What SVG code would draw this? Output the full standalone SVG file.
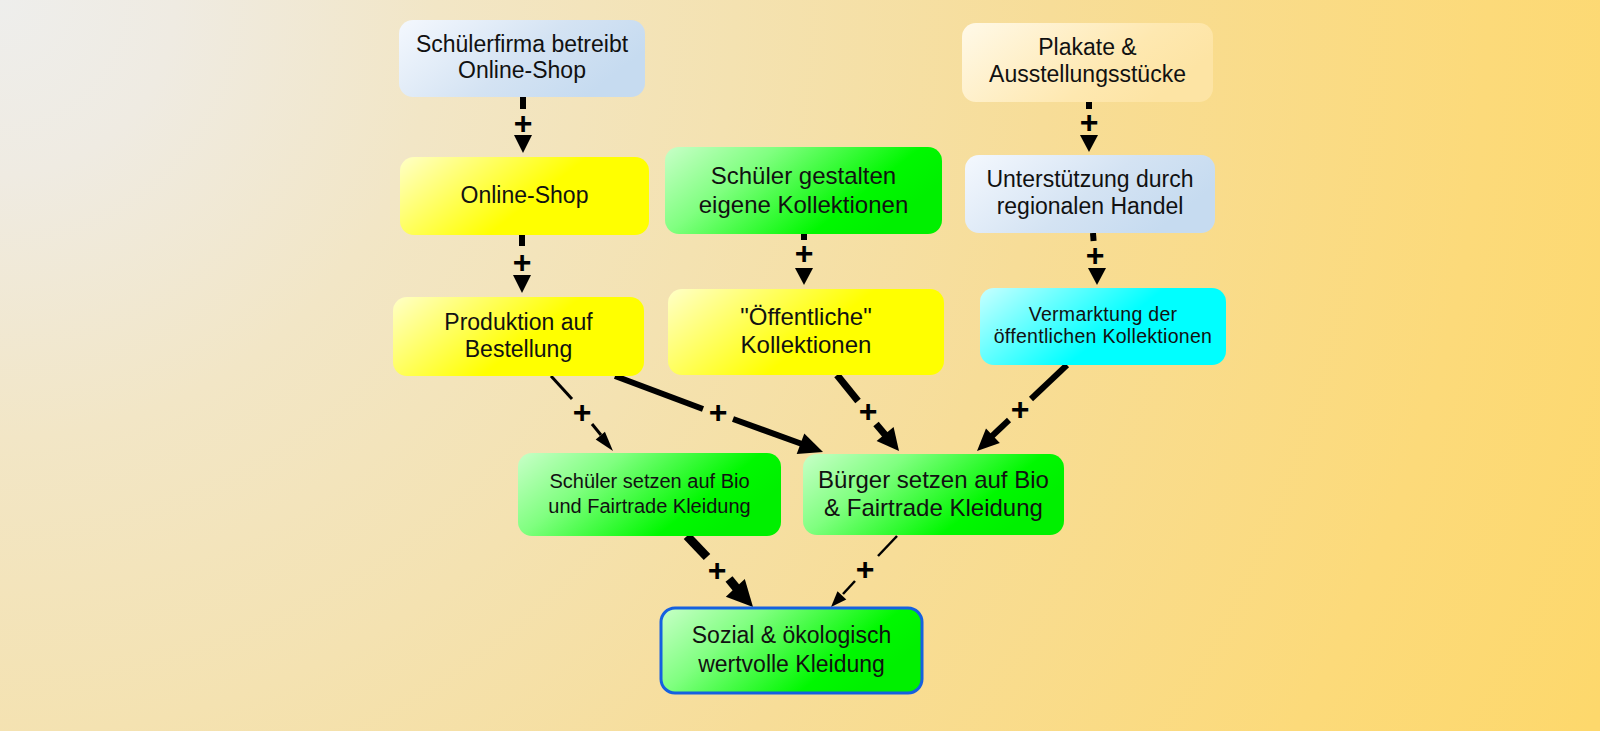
<svg xmlns="http://www.w3.org/2000/svg" width="1600" height="731" viewBox="0 0 1600 731">
<defs>
<radialGradient id="bg" gradientUnits="userSpaceOnUse" cx="0" cy="0" r="1750">
<stop offset="0" stop-color="#eeeeec"/>
<stop offset="0.1" stop-color="#efebe2"/>
<stop offset="0.25" stop-color="#f2e6c6"/>
<stop offset="0.42" stop-color="#f4e2b1"/>
<stop offset="0.6" stop-color="#f7dd98"/>
<stop offset="0.85" stop-color="#fcda7a"/>
<stop offset="1" stop-color="#fdd86c"/>
</radialGradient>
<linearGradient id="gBlue" x1="0" y1="0" x2="1" y2="0.4">
<stop offset="0" stop-color="#f4f8fe"/>
<stop offset="0.6" stop-color="#d4e3f3"/>
<stop offset="1" stop-color="#c6dbf0"/>
</linearGradient>
<linearGradient id="gYellow" x1="0" y1="0" x2="1" y2="0.4">
<stop offset="0" stop-color="#ffffc8"/>
<stop offset="0.65" stop-color="#ffff00"/>
<stop offset="1" stop-color="#ffff00"/>
</linearGradient>
<linearGradient id="gGreen" x1="0" y1="0" x2="1" y2="0.4">
<stop offset="0" stop-color="#c8ffc8"/>
<stop offset="0.35" stop-color="#80ff80"/>
<stop offset="0.8" stop-color="#00f800"/>
<stop offset="1" stop-color="#00f000"/>
</linearGradient>
<linearGradient id="gCyan" x1="0" y1="0" x2="1" y2="0.4">
<stop offset="0" stop-color="#c8ffff"/>
<stop offset="0.65" stop-color="#00ffff"/>
<stop offset="1" stop-color="#00ffff"/>
</linearGradient>
<linearGradient id="gCream" x1="0" y1="0" x2="1" y2="0.4">
<stop offset="0" stop-color="#fff9e8"/>
<stop offset="0.7" stop-color="#fee8b0"/>
<stop offset="1" stop-color="#fde4a4"/>
</linearGradient>
</defs>
<style>
.t{font-family:"Liberation Sans",Arial,sans-serif;fill:#111;text-anchor:middle}
.f23{font-size:23px}
.f24{font-size:24px}
.f20{font-size:20px}
.f19{font-size:19.5px;letter-spacing:0.3px}
.pl{font-family:"Liberation Sans",Arial,sans-serif;font-weight:bold;font-size:32px;fill:#000;text-anchor:middle}
.ln{stroke:#000;fill:none;stroke-linecap:butt}
.ah{fill:#000}
</style>
<rect x="0" y="0" width="1600" height="731" fill="url(#bg)"/>

<g id="connectors">
<g id="c1"><line class="ln" x1="523" y1="97" x2="523" y2="109" stroke-width="6"/><polygon class="ah" points="523,153 514,135 532,135"/><text class="pl" x="523" y="134">+</text></g>
<g id="c2"><line class="ln" x1="522" y1="235" x2="522" y2="246" stroke-width="6"/><polygon class="ah" points="522,293 513,275 531,275"/><text class="pl" x="522" y="273">+</text></g>
<g id="c3"><line class="ln" x1="804" y1="234" x2="804" y2="240" stroke-width="6"/><polygon class="ah" points="804,285 795,268 813,268"/><text class="pl" x="804" y="264">+</text></g>
<g id="c4"><line class="ln" x1="1089" y1="102" x2="1089" y2="109" stroke-width="6"/><polygon class="ah" points="1089,152 1080,135 1098,135"/><text class="pl" x="1089" y="133">+</text></g>
<g id="c5"><line class="ln" x1="1093" y1="233" x2="1093.6" y2="241" stroke-width="6"/><polygon class="ah" points="1097,285 1088,268 1106,268"/><text class="pl" x="1095" y="266">+</text></g>
<g id="c6"><line class="ln" x1="551" y1="376" x2="572" y2="399" stroke-width="3"/><line class="ln" x1="592" y1="424" x2="601" y2="435" stroke-width="3"/><polygon class="ah" points="613,451 595.7,439.4 604.9,431.8"/><text class="pl" x="582" y="423">+</text></g>
<g id="c7"><line class="ln" x1="615" y1="376" x2="703" y2="409" stroke-width="6"/><line class="ln" x1="733" y1="419" x2="802" y2="444" stroke-width="6"/><polygon class="ah" points="823,452 796.7,454.1 804.3,433.5"/><text class="pl" x="718" y="423">+</text></g>
<g id="c8"><line class="ln" x1="837" y1="375" x2="858" y2="401" stroke-width="7"/><line class="ln" x1="876" y1="424" x2="887" y2="437" stroke-width="7"/><polygon class="ah" points="899,451 876.6,441 893.6,427"/><text class="pl" x="868" y="422">+</text></g>
<g id="c9"><line class="ln" x1="1067" y1="365" x2="1031" y2="399" stroke-width="6"/><line class="ln" x1="1009" y1="420" x2="991" y2="437" stroke-width="6"/><polygon class="ah" points="977,451 986,428.6 999.8,443"/><text class="pl" x="1020" y="420">+</text></g>
<g id="c10"><line class="ln" x1="687" y1="536" x2="707" y2="557" stroke-width="9"/><line class="ln" x1="729" y1="579" x2="738" y2="590" stroke-width="9"/><polygon class="ah" points="753,607 725.8,596.8 744.8,579"/><text class="pl" x="717" y="581">+</text></g>
<g id="c11"><line class="ln" x1="897" y1="536" x2="878" y2="556" stroke-width="2.5"/><line class="ln" x1="855" y1="581" x2="843" y2="594" stroke-width="2.5"/><polygon class="ah" points="831,607 837.5,591.2 846.3,599.4"/><text class="pl" x="865" y="580">+</text></g>
</g>

<g id="n-schuelerfirma"><rect x="399" y="20" width="246" height="77" rx="14" fill="url(#gBlue)"/><text class="t f23" x="522" y="52">Schülerfirma betreibt</text><text class="t f23" x="522" y="78">Online-Shop</text></g>
<g id="n-onlineshop"><rect x="400" y="157" width="249" height="78" rx="14" fill="url(#gYellow)"/><text class="t f23" x="524.5" y="203">Online-Shop</text></g>
<g id="n-produktion"><rect x="393" y="297" width="251" height="79" rx="14" fill="url(#gYellow)"/><text class="t f23" x="518.5" y="330">Produktion auf</text><text class="t f23" x="518.5" y="357">Bestellung</text></g>
<g id="n-gestalten"><rect x="665" y="147" width="277" height="87" rx="14" fill="url(#gGreen)"/><text class="t f24" x="803.5" y="184">Schüler gestalten</text><text class="t f24" x="803.5" y="213">eigene Kollektionen</text></g>
<g id="n-oeffentliche"><rect x="668" y="289" width="276" height="86" rx="14" fill="url(#gYellow)"/><text class="t f24" x="806" y="325">"Öffentliche"</text><text class="t f24" x="806" y="353">Kollektionen</text></g>
<g id="n-plakate"><rect x="962" y="23" width="251" height="79" rx="14" fill="url(#gCream)"/><text class="t f23" x="1087.5" y="55">Plakate &amp;</text><text class="t f23" x="1087.5" y="82">Ausstellungsstücke</text></g>
<g id="n-unterstuetzung"><rect x="965" y="155" width="250" height="78" rx="14" fill="url(#gBlue)"/><text class="t f23" x="1090" y="187">Unterstützung durch</text><text class="t f23" x="1090" y="214">regionalen Handel</text></g>
<g id="n-vermarktung"><rect x="980" y="288" width="246" height="77" rx="14" fill="url(#gCyan)"/><text class="t f19" x="1103" y="321">Vermarktung der</text><text class="t f19" x="1103" y="343">öffentlichen Kollektionen</text></g>
<g id="n-schuelersetzen"><rect x="518" y="453" width="263" height="83" rx="14" fill="url(#gGreen)"/><text class="t f20" x="649.5" y="488">Schüler setzen auf Bio</text><text class="t f20" x="649.5" y="513">und Fairtrade Kleidung</text></g>
<g id="n-buerger"><rect x="803" y="454" width="261" height="81" rx="14" fill="url(#gGreen)"/><text class="t f24" x="933.5" y="488">Bürger setzen auf Bio</text><text class="t f24" x="933.5" y="516">&amp; Fairtrade Kleidung</text></g>
<g id="n-sozial"><rect x="661" y="608" width="261" height="85" rx="14" fill="url(#gGreen)" stroke="#1560e0" stroke-width="3"/><text class="t f23" x="791.5" y="643">Sozial &amp; ökologisch</text><text class="t f23" x="791.5" y="672">wertvolle Kleidung</text></g>
</svg>
